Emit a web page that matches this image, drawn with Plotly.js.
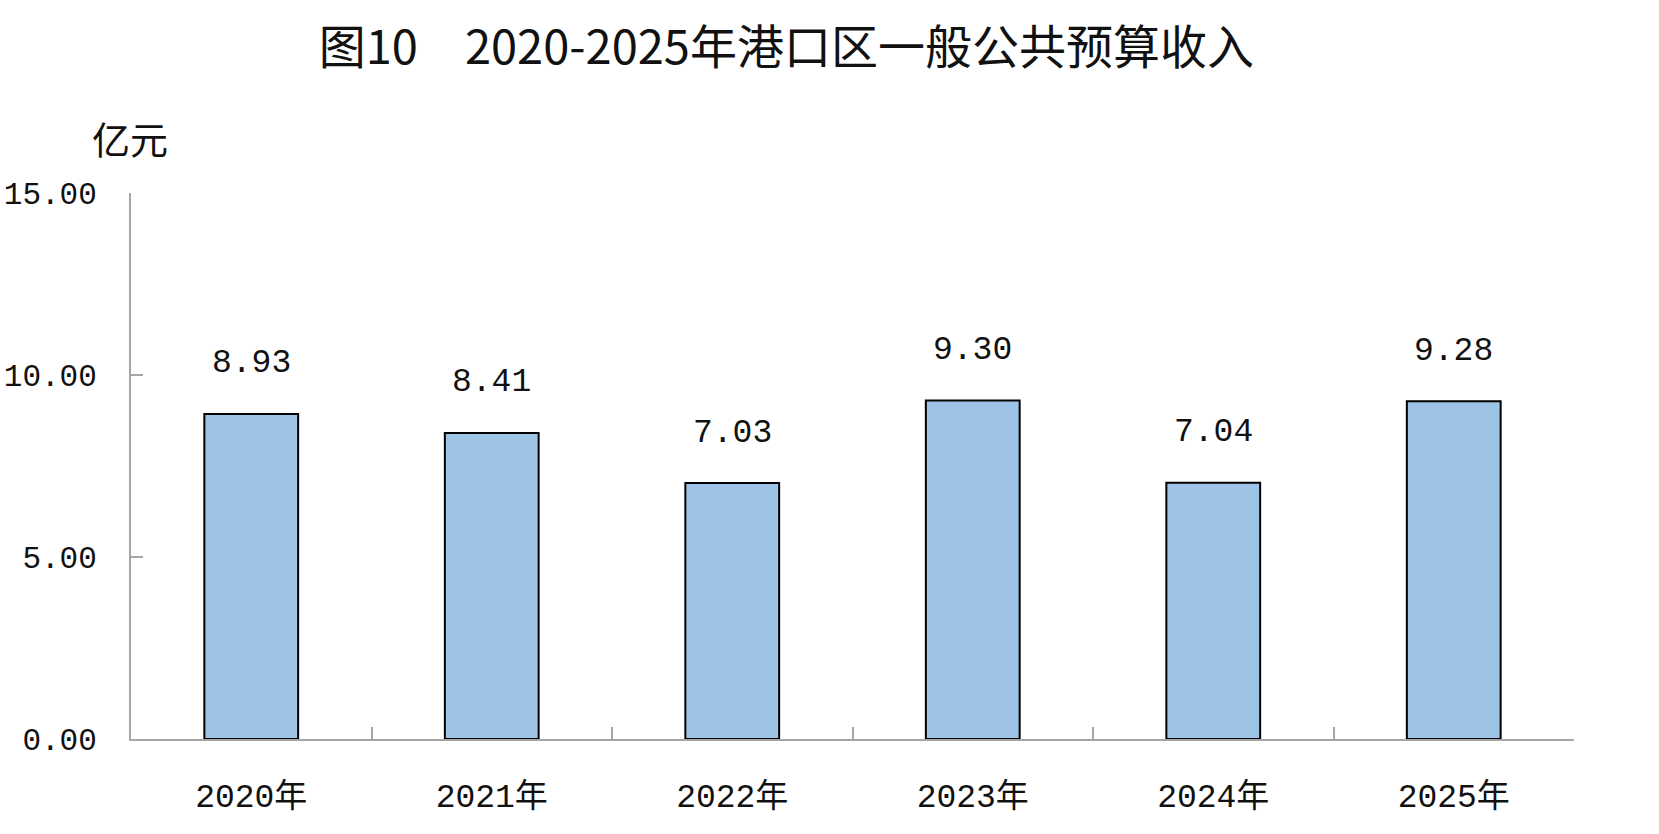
<!DOCTYPE html>
<html>
<head>
<meta charset="utf-8">
<script src="https://cdn.plot.ly/plotly-3.0.1.min.js"></script>
<style>
  html, body { margin: 0; padding: 0; background: #ffffff; }
  #grafico { width: 1659px; height: 834px; }
</style>
</head>
<body>
<div id="grafico"></div>
<script>
// Datos del gráfico: ingresos del presupuesto público general (亿元)
const anios = ['2020年', '2021年', '2022年', '2023年', '2024年', '2025年'];
const ingresos = [8.93, 8.41, 7.03, 9.30, 7.04, 9.28];
const marcasY = [0, 5, 10, 15];

const FUENTE_MONO = '"Liberation Mono", "DejaVu Sans Mono", "Noto Sans CJK SC", monospace';
const FUENTE_CJK = '"Noto Sans CJK SC", "Noto Sans", sans-serif';
const GRIS_EJE = '#a6a6a6';

const traza = {
  type: 'bar',
  x: anios,
  y: ingresos,
  width: 0.39,
  marker: { color: '#9dc3e6', line: { color: '#000000', width: 2 } },
  hoverinfo: 'skip',
};

// Etiquetas de valor encima de cada barra (anotaciones, ancladas al dato)
const etiquetas = anios.map((anio, i) => ({
  x: anio, y: ingresos[i], xref: 'x', yref: 'y',
  text: ingresos[i].toFixed(2),
  showarrow: false, yanchor: 'middle', yshift: 50,
  font: { family: FUENTE_MONO, size: 33, color: '#111111' },
}));

// unidad del eje Y, arriba a la izquierda
etiquetas.push({
  xref: 'paper', yref: 'paper', x: -0.001, y: 1.0, yshift: 56,
  xanchor: 'center', yanchor: 'middle',
  text: '亿元', showarrow: false,
  font: { family: FUENTE_CJK, size: 38, color: '#111111' },
});

const layout = {
  title: {
    text: '图10　2020-2025年港口区一般公共预算收入',
    font: { family: FUENTE_CJK, size: 47, color: '#111111' },
    x: 0.474, xanchor: 'center', y: 0.943, yanchor: 'middle',
  },
  margin: { t: 193, r: 85, b: 95, l: 131 },
  showlegend: false,
  bargap: 0.6,
  paper_bgcolor: '#ffffff',
  plot_bgcolor: '#ffffff',
  xaxis: {
    type: 'category',
    showline: true, linecolor: GRIS_EJE, linewidth: 2,
    ticks: 'inside', tickson: 'boundaries', ticklen: 12, tickcolor: GRIS_EJE, tickwidth: 2,
    showgrid: false, zeroline: false,
    ticklabelstandoff: 26,
    tickfont: { family: FUENTE_MONO, size: 33, color: '#111111' },
  },
  yaxis: {
    range: [0, 15],
    tickvals: marcasY,
    ticktext: marcasY.map((v) => v.toFixed(2)),
    showline: true, linecolor: GRIS_EJE, linewidth: 2,
    ticks: 'inside', ticklen: 12, tickcolor: GRIS_EJE, tickwidth: 2,
    showgrid: false, zeroline: false,
    ticklabelstandoff: 26,
    tickfont: { family: FUENTE_MONO, size: 31, color: '#111111' },
  },
  annotations: etiquetas,
};

Plotly.newPlot('grafico', [traza], layout, { displayModeBar: false, staticPlot: true });
</script>
</body>
</html>
